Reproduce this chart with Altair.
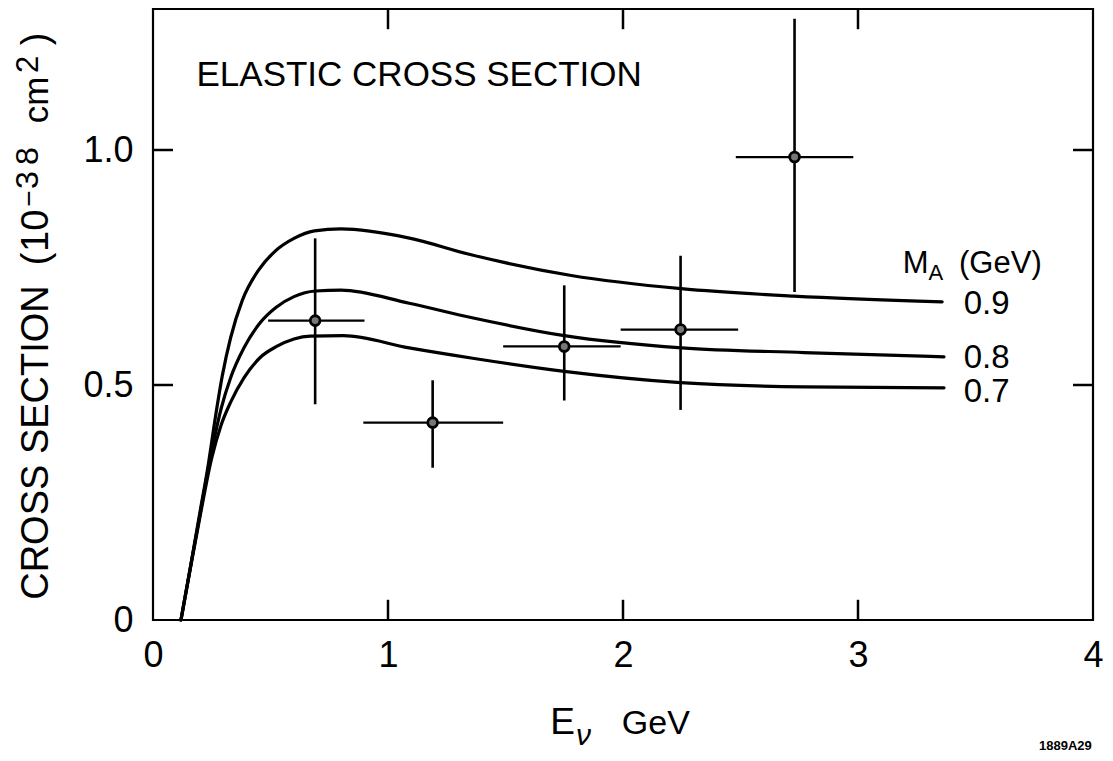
import altair as alt
import pandas as pd

FONT = "Liberation Sans"

# ---- theory curves (sigma vs E_nu) for M_A = 0.9, 0.8, 0.7 GeV ----
E_09 = [0.119, 0.16, 0.2, 0.235, 0.265, 0.295, 0.33, 0.38, 0.45, 0.52, 0.6, 0.687, 0.80, 1.086, 1.354, 1.78, 2.247, 2.726, 3.358]
S_09 = [0.0, 0.115, 0.23, 0.33, 0.43, 0.52, 0.6, 0.68, 0.745, 0.785, 0.812, 0.828, 0.832, 0.813, 0.777, 0.733, 0.705, 0.689, 0.677]

E_08 = [0.119, 0.16, 0.2, 0.25, 0.29, 0.33, 0.386, 0.455, 0.523, 0.6, 0.691, 0.8, 1.09, 1.358, 1.75, 2.25, 2.77, 3.366]
S_08 = [0.0, 0.114, 0.225, 0.36, 0.45, 0.515, 0.578, 0.632, 0.665, 0.688, 0.7, 0.702, 0.674, 0.643, 0.605, 0.579, 0.569, 0.56]

E_07 = [0.119, 0.16, 0.2, 0.25, 0.29, 0.33, 0.387, 0.455, 0.526, 0.6, 0.669, 0.81, 1.09, 1.36, 1.75, 2.245, 2.77, 3.366]
S_07 = [0.0, 0.113, 0.22, 0.345, 0.415, 0.463, 0.515, 0.558, 0.582, 0.598, 0.604, 0.605, 0.579, 0.557, 0.529, 0.505, 0.496, 0.494]

# ---- measured points ----
E_pts = [0.69, 1.19, 1.75, 2.245, 2.73]
S_pts = [0.637, 0.42, 0.582, 0.618, 0.985]
E_lo = [0.49, 0.895, 1.49, 1.99, 2.48]
E_hi = [0.90, 1.49, 1.99, 2.49, 2.98]
S_lo = [0.459, 0.324, 0.467, 0.447, 0.698]
S_hi = [0.812, 0.51, 0.712, 0.775, 1.279]

# ---- axes ----
x_ticks = [0, 1, 2, 3, 4]
y_ticks = [0, 0.5, 1.0]
x_inner_ticks = [1, 2, 3]
y_inner_ticks = [0.5, 1.0]
X_MAX = 4.0
Y_MAX = 1.3
TICK_X = 0.085   # inward tick length in x units
TICK_Y = 0.043   # inward tick length in y units

# ---- text ----
curve_labels = ["0.9", "0.8", "0.7"]
curve_label_y = [0.673, 0.557, 0.486]
curve_label_x = 3.45

# y-axis title pieces (rotated), written bottom to top
ytitle_text = ["CROSS SECTION", "(", "10", "\u2212", "3", "8", "cm", "2", ")"]
ytitle_pos = [0.043, 0.755, 0.783, 0.879, 0.917, 0.968, 1.057, 1.164, 1.223]
ytitle_base = [-0.447, -0.447, -0.447, -0.488, -0.488, -0.488, -0.447, -0.488, -0.447]
ytitle_size = [38, 38, 38, 28, 32, 32, 35, 31, 38]

curves = pd.concat([
    pd.DataFrame({"E": E_09, "S": S_09, "MA": "0.9"}),
    pd.DataFrame({"E": E_08, "S": S_08, "MA": "0.8"}),
    pd.DataFrame({"E": E_07, "S": S_07, "MA": "0.7"}),
])
pts = pd.DataFrame({"E": E_pts, "S": S_pts, "Elo": E_lo, "Ehi": E_hi, "Slo": S_lo, "Shi": S_hi})

xs = alt.Scale(domain=[0, X_MAX], nice=False, zero=False)
ys = alt.Scale(domain=[0, Y_MAX], nice=False, zero=False)

x_axis = alt.Axis(values=x_ticks, labelFontSize=36, labelFont=FONT, labelColor="black",
                  ticks=False, domain=False, grid=False, labelPadding=18, title=None,
                  labelFlush=False, labelExpr="format(datum.value, 'd')")
y_axis = alt.Axis(values=y_ticks, labelFontSize=36, labelFont=FONT, labelColor="black",
                  ticks=False, domain=False, grid=False, labelPadding=20, title=None,
                  labelExpr="datum.value == 0 ? '0' : format(datum.value, '.1f')")

base = alt.Chart(curves)

lines = base.mark_line(color="black", strokeWidth=3.2, interpolate="monotone",
                       strokeCap="round", clip=False).encode(
    x=alt.X("E:Q", scale=xs, axis=x_axis),
    y=alt.Y("S:Q", scale=ys, axis=y_axis),
    detail="MA:N",
)

pbase = alt.Chart(pts)
xerr = pbase.mark_rule(color="black", strokeWidth=2.2).encode(
    x=alt.X("Elo:Q", scale=xs), x2="Ehi:Q", y=alt.Y("S:Q", scale=ys))
yerr = pbase.mark_rule(color="black", strokeWidth=2.6).encode(
    x=alt.X("E:Q", scale=xs), y=alt.Y("Slo:Q", scale=ys), y2="Shi:Q")
dots = pbase.mark_point(filled=True, fill="#777777", stroke="black", strokeWidth=2.8,
                        size=95, shape="circle", opacity=1).encode(
    x=alt.X("E:Q", scale=xs), y=alt.Y("S:Q", scale=ys))

# inward ticks on all four sides
tdf_x = pd.DataFrame({"v": x_inner_ticks})
tdf_y = pd.DataFrame({"v": y_inner_ticks})
bot_ticks = alt.Chart(tdf_x).transform_calculate(a="0", b=str(TICK_Y)).mark_rule(
    color="black", strokeWidth=2.5).encode(
    x=alt.X("v:Q", scale=xs), y=alt.Y("a:Q", scale=ys), y2="b:Q")
top_ticks = alt.Chart(tdf_x).transform_calculate(a=str(Y_MAX), b=str(Y_MAX - TICK_Y)).mark_rule(
    color="black", strokeWidth=2.5).encode(
    x=alt.X("v:Q", scale=xs), y=alt.Y("a:Q", scale=ys), y2="b:Q")
left_ticks = alt.Chart(tdf_y).transform_calculate(a="0", b=str(TICK_X)).mark_rule(
    color="black", strokeWidth=2.5).encode(
    y=alt.Y("v:Q", scale=ys), x=alt.X("a:Q", scale=xs), x2="b:Q")
right_ticks = alt.Chart(tdf_y).transform_calculate(a=str(X_MAX), b=str(X_MAX - TICK_X)).mark_rule(
    color="black", strokeWidth=2.5).encode(
    y=alt.Y("v:Q", scale=ys), x=alt.X("a:Q", scale=xs), x2="b:Q")


def label(text, x, y, size, align="left", baseline="middle", weight="normal", style="normal"):
    df = pd.DataFrame({"x": [x], "y": [y], "t": [text]})
    return alt.Chart(df).mark_text(
        font=FONT, fontSize=size, align=align, baseline=baseline, color="black",
        fontWeight=weight, fontStyle=style, clip=False).encode(
        x=alt.X("x:Q", scale=xs), y=alt.Y("y:Q", scale=ys), text="t:N")


curve_lab = alt.Chart(pd.DataFrame({"t": curve_labels, "y": curve_label_y})).transform_calculate(
    x=str(curve_label_x)).mark_text(font=FONT, fontSize=33, align="left", baseline="middle",
                                     color="black").encode(
    x=alt.X("x:Q", scale=xs), y=alt.Y("y:Q", scale=ys), text="t:N")

ytitle_df = pd.DataFrame({"t": ytitle_text, "y": ytitle_pos, "x": ytitle_base, "s": ytitle_size})
ytitle = alt.Chart(ytitle_df).mark_text(
    font=FONT, angle=270, align="left", baseline="alphabetic", color="black", clip=False
).encode(
    x=alt.X("x:Q", scale=xs), y=alt.Y("y:Q", scale=ys), text="t:N",
    size=alt.Size("s:Q", scale=None, legend=None),
)

texts = [
    label("ELASTIC CROSS SECTION", 0.185, 1.16, 35),
    label("M", 3.19, 0.757, 31),
    label("A", 3.30, 0.738, 22),
    label("(GeV)", 3.43, 0.757, 31),
    label("E", 1.69, -0.219, 37),
    label("\u03bd", 1.80, -0.247, 30, style="italic"),
    label("GeV", 1.995, -0.221, 34),
    label("1889A29", 3.995, -0.268, 13, align="right", weight="bold"),
]

chart = alt.layer(
    lines, xerr, yerr, dots, bot_ticks, top_ticks, left_ticks, right_ticks, curve_lab, ytitle, *texts
).properties(
    width=940, height=611,
    autosize=alt.AutoSizeParams(type="none"),
    padding={"left": 145, "top": 1, "right": 12, "bottom": 140},
    background="white",
).configure_view(
    stroke="black", strokeWidth=2.2
)

chart.save("out.html", embed_options={"renderer": "svg", "actions": False})
